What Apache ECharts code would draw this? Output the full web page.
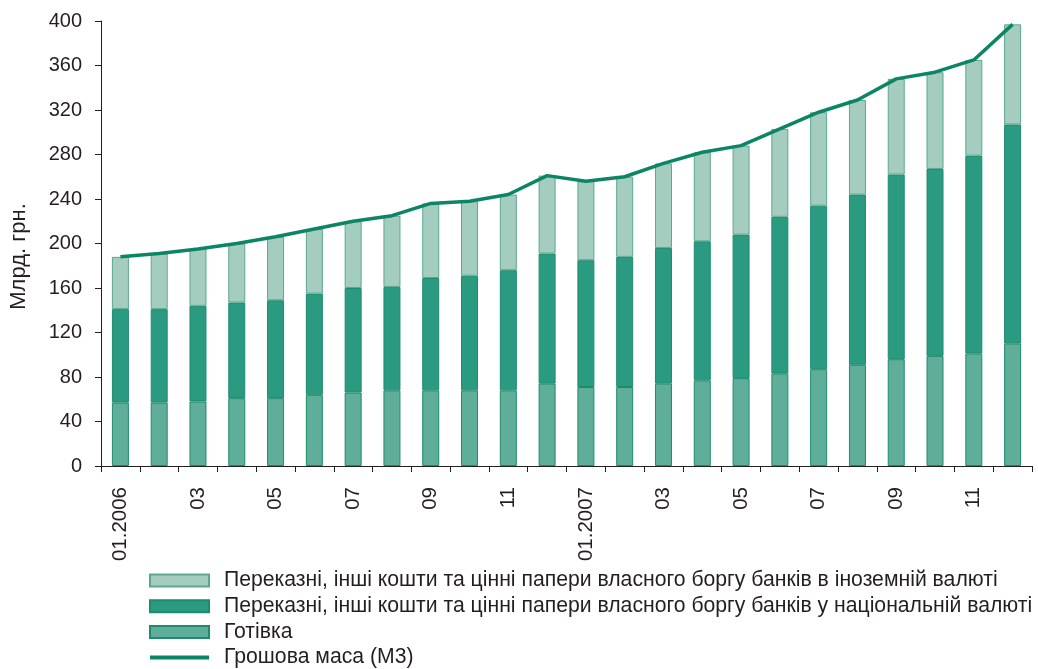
<!DOCTYPE html>
<html>
<head>
<meta charset="utf-8">
<script src="https://cdn.jsdelivr.net/npm/echarts@6/dist/echarts.min.js"></script>
<style>
  html, body { margin: 0; padding: 0; background: #fff; }
  #chart { width: 1038px; height: 669px; }
</style>
</head>
<body>
<div id="chart"></div>
<script>
const months = [
  "01.2006", "02", "03", "04", "05", "06", "07", "08", "09", "10", "11", "12",
  "01.2007", "02", "03", "04", "05", "06", "07", "08", "09", "10", "11", "12"
];

// Готівка
const cash = [57, 57, 58, 61, 61, 64, 66, 68, 68, 68, 68, 74, 71, 71, 74, 77, 79, 83, 87, 91, 96, 99, 101, 110];
// національна валюта
const national = [84, 84, 86, 86, 88, 91, 94, 93, 101, 103, 108, 117, 114, 117, 122, 125, 129, 141, 147, 153, 166, 168, 178, 197];
// іноземна валюта
const foreign = [47, 50, 51, 53, 57, 58, 60, 64, 67, 67, 68, 70, 71, 72, 76, 80, 80, 79, 84, 85, 86, 87, 86, 90];
// Грошова маса (М3)
const m3 = [188, 191, 195, 200, 206, 213, 220, 225, 236, 238, 244, 261, 256, 260, 272, 282, 288, 303, 318, 329, 348, 354, 365, 397];

const yTicks = { min: 0, max: 400, interval: 40 };

const names = [
  "Переказні, інші кошти та цінні папери власного боргу банків в іноземній валюті",
  "Переказні, інші кошти та цінні папери власного боргу банків у національній валюті",
  "Готівка",
  "Грошова маса (М3)"
];

const font = "Liberation Sans";
const ink = "#231f20";
const border = "#1e8b6e";
const lineColor = "#0b8566";

const chart = echarts.init(document.getElementById("chart"), null, { renderer: "canvas" });

chart.setOption({
  animation: false,
  backgroundColor: "#ffffff",
  textStyle: { fontFamily: font },
  grid: { left: 101, right: 6, top: 21, bottom: 203 },
  legend: {
    orient: "vertical",
    left: 148,
    top: 570,
    height: 100,
    padding: 0,
    itemWidth: 59,
    itemHeight: 12,
    itemGap: 4.7,
    textStyle: { fontFamily: font, fontSize: 21.2, lineHeight: 21, color: ink, padding: [0, 0, 0, 10] },
    data: [
      { name: names[0], icon: "rect" },
      { name: names[1], icon: "rect" },
      { name: names[2], icon: "rect" },
      { name: names[3], itemStyle: { opacity: 0 }, lineStyle: { width: 4, color: lineColor } }
    ]
  },
  xAxis: {
    type: "category",
    data: months,
    boundaryGap: true,
    axisLine: { lineStyle: { color: ink, width: 1 } },
    axisTick: { show: true, interval: 0, length: 6, lineStyle: { color: ink } },
    axisLabel: {
      interval: 1,
      rotate: 90,
      margin: 21,
      fontFamily: font,
      fontSize: 20.5,
      color: ink
    },
    splitLine: { show: false }
  },
  yAxis: {
    type: "value",
    min: yTicks.min,
    max: yTicks.max,
    interval: yTicks.interval,
    name: "Млрд. грн.",
    nameLocation: "middle",
    nameGap: 71,
    nameTextStyle: { fontFamily: font, fontSize: 22, color: ink, padding: [0, 26, 0, 0] },
    axisLine: { show: true, lineStyle: { color: ink, width: 1 } },
    axisTick: { show: true, inside: false, length: 6, lineStyle: { color: ink } },
    axisLabel: { fontFamily: font, fontSize: 20, color: ink, margin: 19 },
    splitLine: { show: false }
  },
  series: [
    {
      name: names[2],
      type: "bar",
      stack: "m",
      data: cash,
      barWidth: 17,
      itemStyle: { color: "#5fae9a", borderColor: border, borderWidth: 1 }
    },
    {
      name: names[1],
      type: "bar",
      stack: "m",
      data: national,
      barWidth: 17,
      itemStyle: { color: "#2a9b80", borderColor: border, borderWidth: 1 }
    },
    {
      name: names[0],
      type: "bar",
      stack: "m",
      data: foreign,
      barWidth: 17,
      itemStyle: { color: "#a5cdbf", borderColor: "#5aa890", borderWidth: 1 }
    },
    {
      name: names[3],
      type: "line",
      data: m3,
      symbol: "none",
      z: 5,
      lineStyle: { color: lineColor, width: 3.5 },
      itemStyle: { color: lineColor }
    }
  ]
});
</script>
</body>
</html>
